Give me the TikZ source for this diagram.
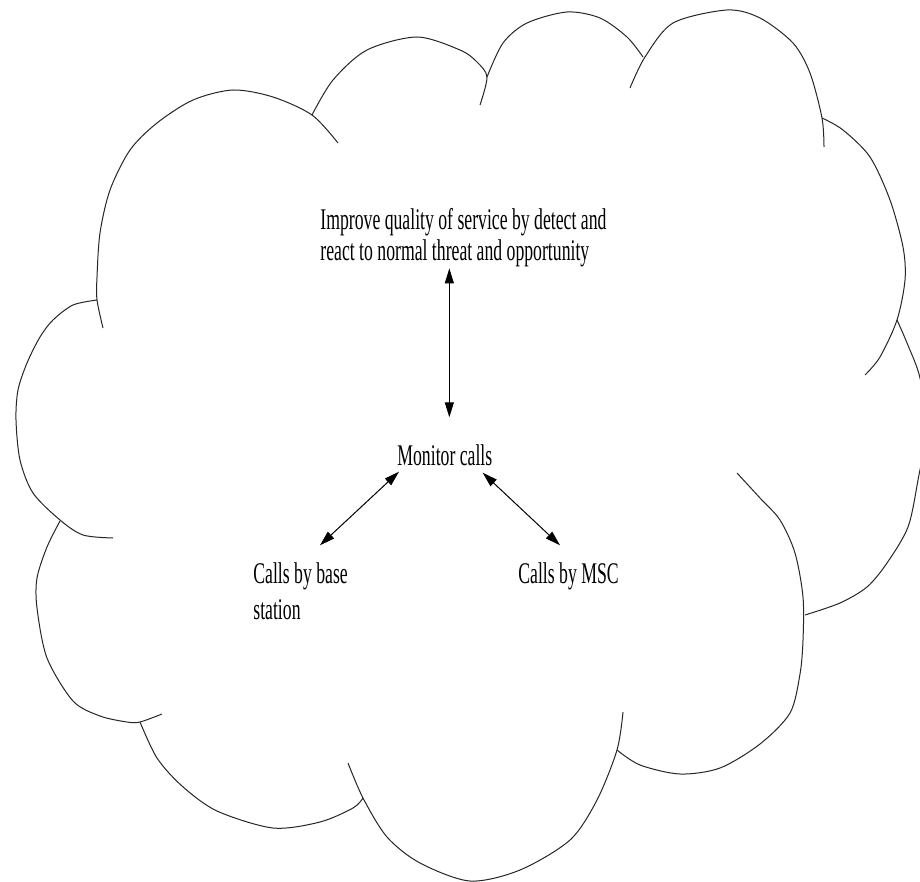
\documentclass[tikz,border=0pt]{standalone}
\usepackage{fontspec}
\usetikzlibrary{arrows.meta}
\newfontfamily\cloudfont[FakeStretch=0.59]{Liberation Serif}
\begin{document}
\begin{tikzpicture}[x=0.5pt, y=-0.5pt,
   lobe/.style={black!85, line width=0.5pt},
   lbl/.style={font=\cloudfont\fontsize{15}{15}\selectfont, inner sep=0pt, align=left},
   dbl/.style={{Triangle[length=7.5pt,width=4.5pt]}-{Triangle[length=7.5pt,width=4.5pt]}, line width=0.5pt}]
   \useasboundingbox (0,0) rectangle (920,882);
   \fill [white] (0,0) rectangle (920,882);
   \clip (0,0) rectangle (920,882);

   % Draw cloud
   \draw [lobe] plot [smooth] coordinates {(103,328) (97,300) (97,277) (100,233) (110,190) (130,150) (157,123) (193,100) (233,90) (273,97) (312,115) (338,143)};
   \draw [lobe] plot [smooth] coordinates {(312,115) (333,80) (367,50) (417,37) (460,50) (477,62) (487,77) (480,105)};
   \draw [lobe] plot [smooth] coordinates {(487,77) (503,43) (527,23) (567,12) (600,18) (627,37) (643,57)};
   \draw [lobe] plot [smooth] coordinates {(630,88) (645,57) (673,23) (727,10) (760,18) (793,43) (810,73) (822,118) (824,147)};
   \draw [lobe] plot [smooth] coordinates {(822,118) (843,130) (870,157) (890,200) (903,247) (905,280) (897,320) (880,357) (865,375)};
   \draw [lobe] plot [smooth] coordinates {(897,320) (907,343) (920,378) (926,430) (918,480) (908,527) (887,563) (867,587) (840,603) (805,615)};
   \draw [lobe] plot [smooth] coordinates {(737,473) (760,498) (780,520) (795,553) (803,597) (803,640) (800,674) (790,713) (760,744) (720,768) (680,774) (640,765) (617,750)};
   \draw [lobe] plot [smooth] coordinates {(623,712) (617,750) (597,800) (570,840) (520,870) (470,881) (420,863) (387,837) (363,798) (348,763)};
   \draw [lobe] plot [smooth] coordinates {(363,798) (353,808) (320,822) (273,828) (217,811) (182,786) (157,758) (140,722)};
   \draw [lobe] plot [smooth] coordinates {(162,714) (140,722) (127,722) (100,716) (73,701) (47,658) (37,608) (37,578) (47,547) (60,521)};
   \draw [lobe] plot [smooth] coordinates {(113,538) (83,535) (60,520) (33,493) (20,460) (16,420) (18,390) (27,363) (40,337) (53,320) (73,305) (97,300)};

   \node [lbl, anchor=base west] (goal) at (320,260) {Improve quality of service by detect and\\ react to normal threat and opportunity};
   \node [lbl, anchor=base west] (mon) at (397,465) {Monitor calls};
   \node [lbl, anchor=base west] (bs) at (253,619) {Calls by base\\[3pt] station};
   \node [lbl, anchor=base west] (msc) at (518,583) {Calls by MSC};

   \draw [dbl, shorten <=0.75pt, shorten >=13.25pt] ([xshift=2.25pt]mon.north |- goal.south) -- ([xshift=2.25pt]mon.north);
   \draw [dbl] ([xshift=1pt,yshift=-3pt]mon.south west) -- ([xshift=33.5pt,yshift=8.25pt]bs.north west);
   \draw [dbl] ([xshift=-5pt,yshift=-3.5pt]mon.south east) -- ([xshift=21pt,yshift=8.25pt]msc.north west);
\end{tikzpicture}
\end{document}
